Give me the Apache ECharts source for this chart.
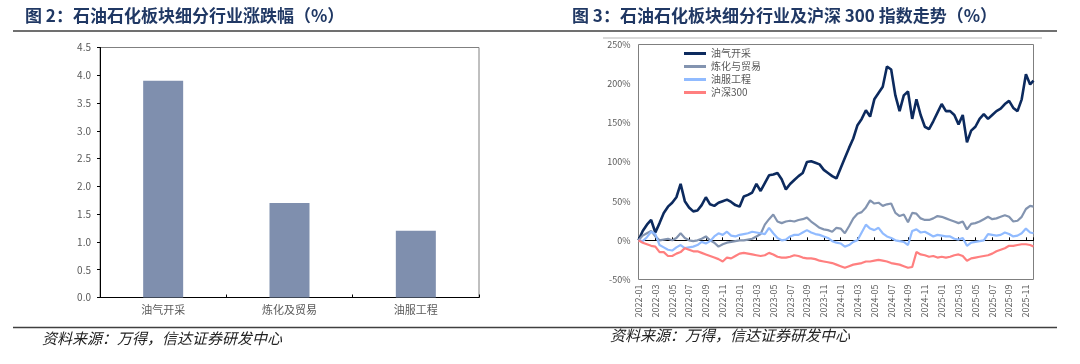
<!DOCTYPE html>
<html><head><meta charset="utf-8">
<script src="https://cdn.jsdelivr.net/npm/echarts@6/dist/echarts.min.js"></script>
<style>html,body{margin:0;padding:0;background:#fff}#c{width:1080px;height:364px}</style>
</head><body><div id="c"></div><script>
// ---- Left chart data ----
const barCategories = ['油气开采', '炼化及贸易', '油服工程'];
const barValues = [3.9, 1.7, 1.2];

// ---- Right chart data (half-monthly samples) ----
const seriesNames = ['油气开采', '炼化与贸易', '油服工程', '沪深300'];
const dates = [
  '2022-01-01','2022-01-16','2022-02-01','2022-02-16','2022-03-01','2022-03-16','2022-04-01','2022-04-16','2022-05-01','2022-05-16','2022-06-01','2022-06-16',
  '2022-07-01','2022-07-16','2022-08-01','2022-08-16','2022-09-01','2022-09-16','2022-10-01','2022-10-16','2022-11-01','2022-11-16','2022-12-01','2022-12-16',
  '2023-01-01','2023-01-16','2023-02-01','2023-02-16','2023-03-01','2023-03-16','2023-04-01','2023-04-16','2023-05-01','2023-05-16','2023-06-01','2023-06-16',
  '2023-07-01','2023-07-16','2023-08-01','2023-08-16','2023-09-01','2023-09-16','2023-10-01','2023-10-16','2023-11-01','2023-11-16','2023-12-01','2023-12-16',
  '2024-01-01','2024-01-16','2024-02-01','2024-02-16','2024-03-01','2024-03-16','2024-04-01','2024-04-16','2024-05-01','2024-05-16','2024-06-01','2024-06-16',
  '2024-07-01','2024-07-16','2024-08-01','2024-08-16','2024-09-01','2024-09-16','2024-10-01','2024-10-16','2024-11-01','2024-11-16','2024-12-01','2024-12-16',
  '2025-01-01','2025-01-16','2025-02-01','2025-02-16','2025-03-01','2025-03-16','2025-04-01','2025-04-16','2025-05-01','2025-05-16','2025-06-01','2025-06-16',
  '2025-07-01','2025-07-16','2025-08-01','2025-08-16','2025-09-01','2025-09-16','2025-10-01','2025-10-16','2025-11-01','2025-11-16','2025-11-28'
];
const oilGas = [
  0,12,20,26,10,22,35,43,48,55,72,50, 42,37,38,45,55,46,44,48,50,52,49,45,
  43,56,58,61,72,63,73,83,84,86,78,65, 72,77,82,86,100,101,99,97,90,86,82,79,
  92,105,118,130,147,155,166,158,180,188,196,222, 218,185,165,185,190,155,180,160,145,142,152,163,
  174,165,165,160,148,160,125,140,145,155,161,155, 160,165,168,174,178,169,165,180,212,199,204
];
const refining = [
  0,6,9,12,5,0,1,2,0,3,9,3, 0,-1,0,2,5,0,-3,-8,-5,-3,-2,-1,
  0,0,1,2,5,8,20,27,33,24,22,24, 25,24,26,27,29,24,20,16,14,13,11,16,
  15,9,18,28,34,36,42,51,47,48,44,46, 47,35,31,33,23,35,34,28,26,26,28,31,
  30,28,26,24,22,24,14,21,22,24,27,30, 27,28,30,32,30,24,25,30,40,44,43
];
const oilService = [
  0,-1,4,11,8,-6,-9,-12,-13,-9,-6,-10, -9,-8,-6,-2,-4,-1,5,9,7,11,6,5,
  7,8,9,11,10,9,8,16,9,3,0,1, 5,7,7,10,13,10,8,7,5,3,-1,-3,
  -4,-8,-6,-2,0,10,20,15,13,16,9,5, 3,0,-1,-2,-6,12,14,10,11,8,5,7,
  6,5,5,2,1,3,-7,-3,-2,-1,0,8, 7,6,7,10,8,5,6,9,15,10,9
];
const hs300 = [
  0,-3,-5,-7,-8,-15,-15,-20,-20,-17,-15,-10, -12,-14,-14,-16,-18,-20,-22,-24,-27,-22,-23,-20,
  -17,-16,-17,-18,-19,-20,-19,-16,-18,-21,-22,-22, -21,-19,-20,-22,-23,-23,-24,-26,-27,-28,-29,-31,
  -33,-35,-33,-31,-30,-29,-27,-27,-26,-25,-26,-27, -29,-30,-31,-33,-35,-34,-15,-18,-19,-21,-20,-22,
  -21,-22,-21,-19,-18,-20,-26,-23,-22,-21,-20,-19, -17,-14,-12,-10,-7,-7,-6,-5,-5,-6,-8
];
const lineColors = ['#0c2a5e', '#8394b0', '#91bbff', '#ff7f7f'];
const lineWidths = [2.6, 2.2, 2.2, 2.2];

const FONT = '"Noto Sans CJK SC", "Noto Sans", sans-serif';
function monthIndex(s) {
  const p = s.split('-').map(Number);
  return (p[0] - 2022) * 12 + (p[1] - 1) + (p[2] - 1) / 30;
}
const xs = dates.map(monthIndex);
const toPairs = arr => arr.map((v, i) => [xs[i], v]);
const xMax = xs[xs.length - 1];
function monthLabel(v) {
  const y = 2022 + Math.floor(v / 12);
  const m = (v % 12) + 1;
  return y + '-' + (m < 10 ? '0' + m : m);
}

const axisText = { color: '#595959', fontFamily: FONT };
const lineData = [oilGas, refining, oilService, hs300];

const chart = echarts.init(document.getElementById('c'), null, { renderer: 'canvas' });
chart.setOption({
  animation: false,
  textStyle: { fontFamily: FONT },
  title: [
    { text: '图 2：石油石化板块细分行业涨跌幅（%）', left: 20, top: 2,
      textStyle: { fontSize: 17, fontWeight: 'bold', color: '#203864', fontFamily: FONT } },
    { text: '图 3：石油石化板块细分行业及沪深 300 指数走势（%）', left: 567, top: 2,
      textStyle: { fontSize: 17, fontWeight: 'bold', color: '#203864', fontFamily: FONT } }
  ],
  grid: [
    { left: 100, top: 47.5, width: 379, height: 250, show: true, borderColor: '#808080', borderWidth: 1 },
    { left: 638.5, top: 44.5, width: 395, height: 235, show: true, borderColor: '#7f7f7f', borderWidth: 1 }
  ],
  legend: {
    data: seriesNames, orient: 'vertical', left: 679, top: 42,
    icon: 'rect', itemWidth: 22, itemHeight: 3, itemGap: 0,
    textStyle: { color: '#595959', fontSize: 10, lineHeight: 13, fontFamily: FONT }
  },
  xAxis: [
    { type: 'category', gridIndex: 0, data: barCategories,
      axisLine: { lineStyle: { color: '#000', width: 1 } },
      axisTick: { show: true, inside: true, length: 3, lineStyle: { color: '#000' } },
      axisLabel: Object.assign({}, axisText, { fontSize: 11, margin: 7 }) },
    { type: 'value', gridIndex: 1, min: 0, max: xMax, interval: 2,
      axisLine: { onZero: true, lineStyle: { color: '#000', width: 1 } },
      axisTick: { show: true, inside: true, length: 3, lineStyle: { color: '#000' } },
      axisLabel: { show: false }, splitLine: { show: false } },
    { type: 'value', gridIndex: 1, min: 0, max: xMax, interval: 2, position: 'bottom',
      axisLine: { show: false, onZero: false }, axisTick: { show: false },
      axisLabel: Object.assign({}, axisText, { fontSize: 9, rotate: 90, margin: 5, formatter: monthLabel }),
      splitLine: { show: false } }
  ],
  yAxis: [
    { type: 'value', gridIndex: 0, min: 0, max: 4.5, interval: 0.5,
      axisLine: { show: true, lineStyle: { color: '#000' } },
      axisTick: { show: true, length: 3, lineStyle: { color: '#000' } },
      axisLabel: Object.assign({}, axisText, { fontSize: 10, margin: 9, formatter: v => v.toFixed(1) }),
      splitLine: { show: false } },
    { type: 'value', gridIndex: 1, min: -50, max: 250, interval: 50,
      axisLine: { show: false, onZero: false }, axisTick: { show: false },
      axisLabel: Object.assign({}, axisText, { fontSize: 9, margin: 8, formatter: '{value}%' }),
      splitLine: { show: false } }
  ],
  series: [
    { type: 'bar', xAxisIndex: 0, yAxisIndex: 0, data: barValues, barWidth: 40,
      itemStyle: { color: '#7f8fae' } }
  ].concat(lineData.map((arr, i) => ({
    type: 'line', name: seriesNames[i], xAxisIndex: 1, yAxisIndex: 1,
    data: toPairs(arr), symbol: 'none', showSymbol: false,
    lineStyle: { color: lineColors[i], width: lineWidths[i] },
    itemStyle: { color: lineColors[i] }
  }))),
  graphic: [
    { type: 'line', shape: { x1: 13, y1: 31, x2: 1057, y2: 31 }, style: { stroke: '#404040', lineWidth: 1.5 } },
    { type: 'line', shape: { x1: 603, y1: 38, x2: 1042, y2: 38 }, style: { stroke: '#d9d9d9', lineWidth: 2 } },
    { type: 'line', shape: { x1: 13, y1: 327.5, x2: 1057, y2: 327.5 }, style: { stroke: '#404040', lineWidth: 1.5 } },
    { type: 'text', left: 42, top: 331, style: { text: '资料来源：万得，信达证券研发中心', fill: '#222',
      font: 'italic 15px ' + FONT } },
    { type: 'text', left: 610, top: 328, style: { text: '资料来源：万得，信达证券研发中心', fill: '#222',
      font: 'italic 15px ' + FONT } }
  ]
});
</script></body></html>
